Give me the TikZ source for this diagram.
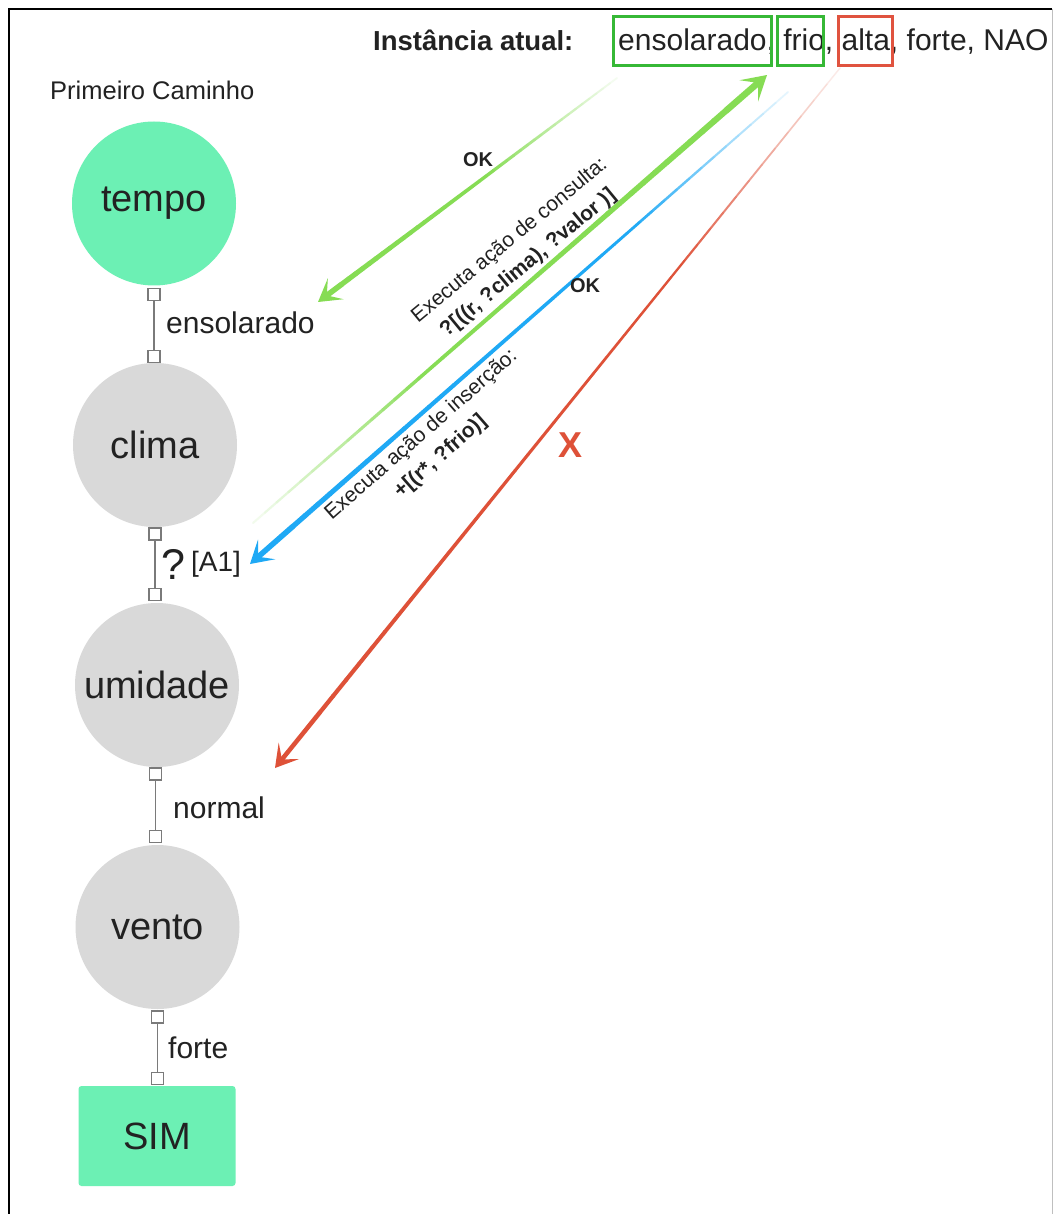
\documentclass[tikz,border=0pt]{standalone}
\usepackage{fontspec}
\setmainfont{Liberation Sans}
\usetikzlibrary{arrows.meta,calc}
\definecolor{mint}{HTML}{6CF0B4}
\definecolor{nodegray}{HTML}{D9D9D9}
\definecolor{boxgreen}{HTML}{36B836}
\definecolor{boxred}{HTML}{E0533F}
\definecolor{arrgreen}{HTML}{86DC54}
\definecolor{arrblue}{HTML}{1FA9F5}
\definecolor{arrred}{HTML}{DE5138}
\definecolor{txt}{HTML}{222222}
\definecolor{connc}{HTML}{7A7A7A}
% #1 start, #2 end, #3 colour, #4 full width, #5 colour fade fraction, #6 tip
\newcommand\fadearrow[6]{%
  \foreach \k in {1,...,40}{%
    \pgfmathsetmacro\ta{(\k-1)/40*0.92}%
    \pgfmathsetmacro\tb{\k/40*0.92}%
    \pgfmathtruncatemacro\pc{min(100,5+95*\tb/#5)}%
    \pgfmathsetmacro\lw{#4*(0.3+0.7*\tb)}%
    \draw[draw=#3!\pc!white, line width=\lw pt, line cap=round] ($(#1)!\ta!(#2)$) -- ($(#1)!\tb!(#2)$);
  }%
  \draw[#3, line width=#4pt, -{#6}] ($(#1)!0.92!(#2)$) -- (#2);
}
\tikzset{
  circnode/.style={circle, minimum size=164pt, inner sep=0pt, text=txt, font=\fontsize{38}{40}\selectfont},
  endbox/.style={rectangle, rounded corners=3pt, minimum width=157pt, minimum height=100pt, inner sep=0pt, text=txt, fill=mint, font=\fontsize{38}{40}\selectfont},
  sq/.style={rectangle, draw=connc, fill=white, line width=1.3pt, minimum size=12pt, inner sep=0pt},
  conn/.style={draw=connc, line width=1.8pt},
  lbl/.style={text=txt, inner sep=0pt, anchor=base west, font=\fontsize{30}{32}\selectfont},
  hbox/.style={draw, line width=3pt, inner sep=0pt, minimum height=49pt},
  oklbl/.style={text=txt, inner sep=0pt, font=\fontsize{20}{22}\selectfont\bfseries},
  rotlbl/.style={text=txt, inner sep=0pt, align=center, font=\fontsize{21}{29}\selectfont},
  tip/.style={},
}
\begin{document}
\begin{tikzpicture}[x=1pt,y=-1pt]
\useasboundingbox (0,0) rectangle (1054,1214);
\fill[white] (0,0) rectangle (1054,1214);
% frame
\draw[black, line width=1.8pt] (9,1214) -- (9,9) -- (1052,9);
\draw[black!25, line width=1pt] (1052,9) -- (1052,1214);

% header
\node[text=txt, inner sep=0pt, anchor=base west, font=\fontsize{27.5}{30}\selectfont\bfseries] (inst) at (373,51) {Instância atual:};
\node[lbl] (vals) at (618,51) {ensolarado, frio, alta, forte, NAO};
\node[hbox, draw=boxgreen, minimum width=158pt] (bens) at (692,41.5) {};
\node[hbox, draw=boxgreen, minimum width=46pt] (bfrio) at (800,41.5) {};
\node[hbox, draw=boxred, minimum width=54pt] (balta) at (865,41.5) {};

\node[text=txt, inner sep=0pt, anchor=base west, font=\fontsize{25.5}{27}\selectfont] (title) at (50,100) {Primeiro Caminho};

% tree
\node[circnode, fill=mint] (tempo) at (154,203.5) {tempo};
\node[circnode, fill=nodegray] (clima) at (155,445) {clima};
\node[circnode, fill=nodegray] (umidade) at (157,685) {umidade};
\node[circnode, fill=nodegray] (vento) at (157.5,927) {vento};
\node[endbox] (sim) at (157,1136) {SIM};

\node[sq, anchor=north] (s1a) at ([yshift=-2pt]tempo.south) {};
\node[sq, anchor=south] (s1b) at (s1a |- clima.north) {};
\draw[conn] (s1a) -- (s1b);
\node[sq, anchor=north] (s2a) at (clima.south) {};
\node[sq, anchor=south] (s2b) at ([yshift=2pt]s2a |- umidade.north) {};
\draw[conn] (s2a) -- (s2b);
\node[sq, anchor=north] (s3a) at ([xshift=-1.5pt]umidade.south) {};
\node[sq, anchor=south] (s3b) at ([yshift=2pt]s3a |- vento.north) {};
\draw[conn] (s3a) -- (s3b);
\node[sq, anchor=north] (s4a) at ([yshift=-1pt]vento.south) {};
\node[sq, anchor=south] (s4b) at ([yshift=1pt]s4a |- sim.north) {};
\draw[conn] (s4a) -- (s4b);

\node[lbl] (l1) at (166,333) {ensolarado};
\node[lbl, font=\fontsize{43}{45}\selectfont] (lq) at (161,579) {?};
\node[lbl, font=\fontsize{28}{30}\selectfont] (la1) at (191,571) {[A1]};
\node[lbl] (l3) at (173,818) {normal};
\node[lbl] (l4) at (168,1058) {forte};

% arrows
\coordinate (a1s) at (617,78);
\coordinate (a1e) at (318,302);
\coordinate (a2s) at (253,523);
\coordinate (a2e) at (767,75);
\coordinate (a3s) at (788,92);
\coordinate (a3e) at (250,564);
\coordinate (a4s) at (840,68);
\coordinate (a4e) at (275,768);
\fadearrow{a1s}{a1e}{arrgreen}{5.5}{0.45}{Stealth[length=22pt,width=26pt,inset=11pt]}
\fadearrow{a2s}{a2e}{arrgreen}{6.5}{0.35}{Stealth[length=24pt,width=28pt,inset=12pt]}
\fadearrow{a3s}{a3e}{arrblue}{5.5}{0.3}{Stealth[length=22pt,width=26pt,inset=11pt]}
\fadearrow{a4s}{a4e}{arrred}{4.5}{0.3}{Stealth[length=22pt,width=26pt,inset=11pt]}

\node[oklbl] (ok1) at (478,160) {OK};
\node[oklbl] (ok2) at (585,286) {OK};
\node[rotlbl, rotate=39.5] (t1) at (519,252) {Executa ação de consulta:\\\textbf{?[((r, ?clima), ?valor )]}};
\node[rotlbl, rotate=41.2] (t2) at (431,446) {Executa ação de inserção:\\\textbf{+[(r*, ?frio)]}};
\node[text=arrred, inner sep=0pt, font=\fontsize{36}{38}\selectfont\bfseries] (x) at (570,445) {X};
\end{tikzpicture}
\end{document}
